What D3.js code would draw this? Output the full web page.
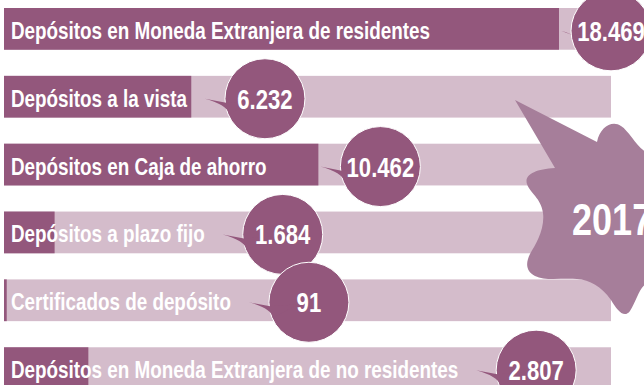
<!DOCTYPE html>
<html>
<head>
<meta charset="utf-8">
<script src="https://cdn.jsdelivr.net/npm/d3@7"></script>
<style>
  html, body { margin: 0; padding: 0; background: #ffffff; }
  svg { display: block; }
  .lbl, .val, .year {
    font-family: "Liberation Sans", Arial, sans-serif;
    font-weight: bold;
    fill: #ffffff;
  }
</style>
</head>
<body>
<div id="chart"></div>
<script>
// Depósitos por tipo (millones)
const categories = [
  "Depósitos en Moneda Extranjera de residentes",
  "Depósitos a la vista",
  "Depósitos en Caja de ahorro",
  "Depósitos a plazo fijo",
  "Certificados de depósito",
  "Depósitos en Moneda Extranjera de no residentes"
];
const values = [18469, 6232, 10462, 1684, 91, 2807];
const yearLabel = "2017";

const W = 644, H = 385;
const dark = "#93577c", light = "#d4bccb", splatColor = "#a67e9a";
const narrow = 0.82; // horizontal squeeze for a condensed face

const svg = d3.select("#chart").append("svg")
  .attr("width", W).attr("height", H);

const x = d3.scaleLinear().domain([0, 20200]).range([4, 611]);
const y = d3.scaleBand().domain(categories).range([8, 389]).paddingInner(0.385).paddingOuter(0);

const fmt = d3.formatLocale({ decimal: ",", thousands: ".", grouping: [3], currency: ["$", ""] }).format(",d");

const rows = categories.map((c, i) => ({ cat: c, value: values[i] }));

// background tracks
svg.append("g").selectAll("rect").data(rows).join("rect")
  .attr("x", x(0)).attr("y", d => y(d.cat))
  .attr("width", x.range()[1] - x(0)).attr("height", y.bandwidth())
  .attr("fill", light);

// value bars
svg.append("g").selectAll("rect").data(rows).join("rect")
  .attr("x", x(0)).attr("y", d => y(d.cat))
  .attr("width", d => x(d.value) - x(0)).attr("height", y.bandwidth())
  .attr("fill", dark);

// category labels
const labelX = 11;
const labels = svg.append("g").selectAll("text").data(rows).join("text")
  .attr("class", "lbl")
  .attr("transform", d => `translate(${labelX},${y(d.cat) + y.bandwidth() / 2 + 10}) scale(${narrow},1)`)
  .attr("font-size", 23)
  .text(d => d.cat);

labels.each(function(d) { d.labelEnd = labelX + this.getComputedTextLength() * narrow; });

// year splat
svg.append("path")
  .attr("fill", splatColor)
  .attr("d", "M515,100 L597,142 C600,127 612,120 621,126 C629,131 636,146 646,152 L660,152 L660,280 L646,284 " +
             "C639,288 636,302 630,311 C624,319 617,310 611,300 C601,286 590,280 577,279 " +
             "C560,278 545,281 535,276 C525,271 526,262 530,254 C536,244 545,229 543,213 " +
             "C541,198 530,193 527,184 C524,175 535,169 555,168 Z");

svg.append("text").attr("class", "year")
  .attr("transform", `translate(572,235) scale(${narrow},1)`)
  .attr("font-size", 44)
  .text(yearLabel);

// value bubbles
const r = 40;
rows.forEach(d => {
  const tipX = Math.max(x(d.value) + 2, d.labelEnd + 18);
  d.tipX = tipX;
  d.cx = Math.min(tipX + 60, W - 33);
  d.cy = y(d.cat) + y.bandwidth() / 2 + 2;
});

const bubbles = svg.append("g").selectAll("g").data(rows).join("g");

bubbles.append("circle")
  .attr("cx", d => d.cx).attr("cy", d => d.cy).attr("r", r)
  .attr("fill", dark).attr("stroke", "#ffffff").attr("stroke-width", 1);

const rad = a => a * Math.PI / 180;
bubbles.append("path")
  .attr("fill", dark)
  .attr("d", d => {
    const tip = [d.tipX, d.cy];
    const a1 = [d.cx + (r - 1) * Math.cos(rad(174)), d.cy + (r - 1) * Math.sin(rad(174))];
    const a2 = [d.cx + (r - 1) * Math.cos(rad(157)), d.cy + (r - 1) * Math.sin(rad(157))];
    const c = [d.cx - 10, d.cy + 2];
    const ctrl = [tip[0] + 22, tip[1] + 6];
    return `M${tip[0]},${tip[1]} L${a1[0]},${a1[1]} L${c[0]},${c[1]} L${a2[0]},${a2[1]} Q${ctrl[0]},${ctrl[1]} ${tip[0]},${tip[1]} Z`;
  });

bubbles.append("text").attr("class", "val")
  .attr("transform", d => `translate(${d.cx},${d.cy + 10}) scale(${narrow},1)`)
  .attr("text-anchor", "middle")
  .attr("font-size", 27)
  .text(d => fmt(d.value));
</script>
</body>
</html>
